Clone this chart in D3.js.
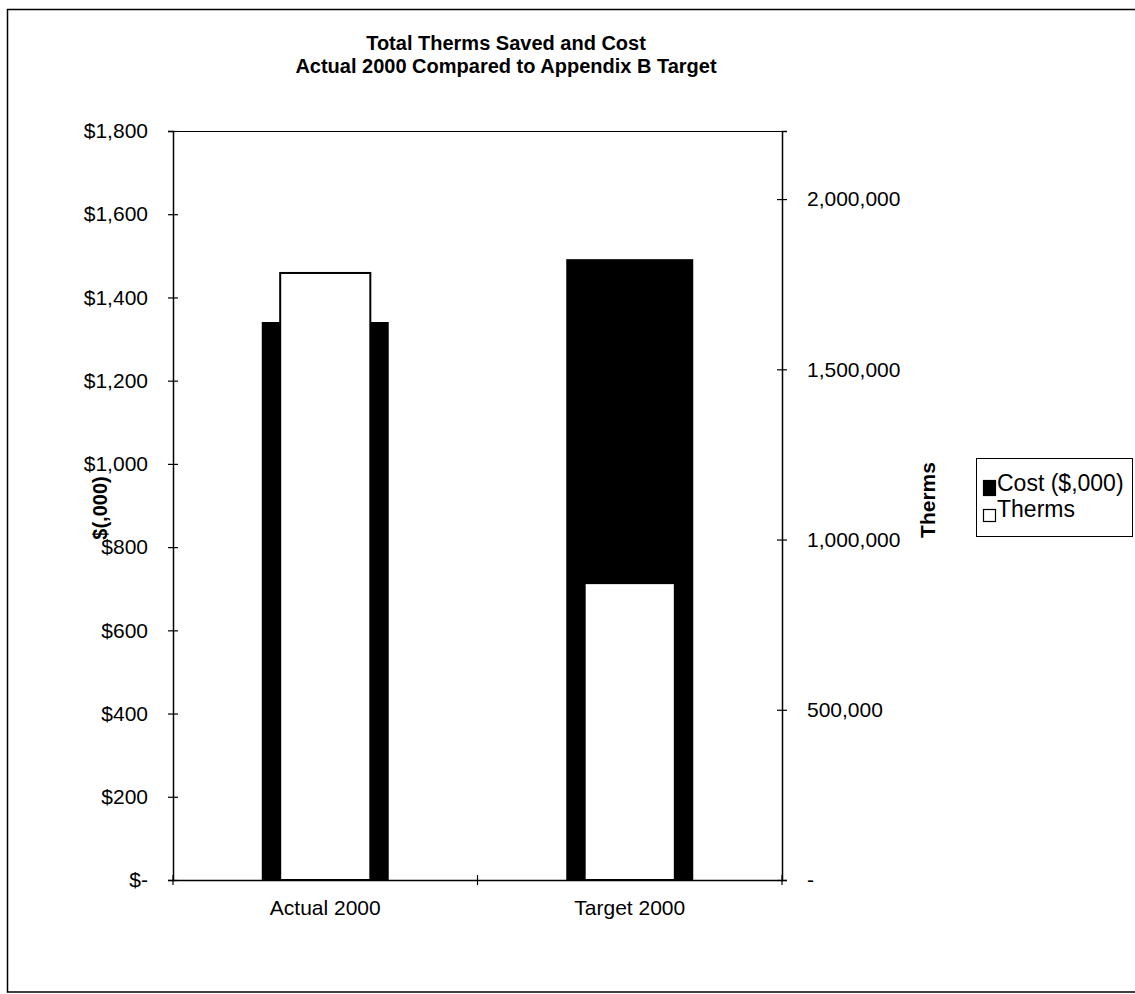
<!DOCTYPE html>
<html>
<head>
<meta charset="utf-8">
<script src="https://cdn.jsdelivr.net/npm/d3@7"></script>
<style>
  html, body { margin: 0; padding: 0; background: #fff; }
  svg { display: block; font-family: "Liberation Sans", Arial, sans-serif; }
</style>
</head>
<body>
<svg id="chart" width="1135" height="994"></svg>
<script>
// ---- Data ----
const categories = ["Actual 2000", "Target 2000"];
const costValues = [1341, 1492];            // $(,000) – left axis
const thermValues = [1783000, 872000];      // Therms – right axis
const leftTicks = [0, 200, 400, 600, 800, 1000, 1200, 1400, 1600, 1800];
const rightTicks = [0, 500000, 1000000, 1500000, 2000000];
const titleLines = ["Total Therms Saved and Cost", "Actual 2000 Compared to Appendix B Target"];
const seriesNames = ["Cost ($,000)", "Therms"];

// ---- Layout ----
const svg = d3.select("#chart");
const plot = { left: 173, right: 782, top: 131, bottom: 880 };
const fontSize = 21;

// outer frame
svg.append("rect")
  .attr("x", 7.5).attr("y", 9.5)
  .attr("width", 1140).attr("height", 982.5)
  .attr("fill", "none").attr("stroke", "#000").attr("stroke-width", 1.5);

// scales
const x = d3.scaleBand().domain(categories).range([plot.left, plot.right]).padding(0);
const yL = d3.scaleLinear().domain([0, 1800]).range([plot.bottom, plot.top]);
const yR = d3.scaleLinear().domain([0, 2200000]).range([plot.bottom, plot.top]);

// bars: cost (black, wide)
const costW = x.bandwidth() * 0.417;
const thermW = x.bandwidth() * 0.296;
svg.append("g").selectAll("rect").data(categories).join("rect")
  .attr("x", (d) => x(d) + x.bandwidth() / 2 - costW / 2)
  .attr("y", (d, i) => yL(costValues[i]))
  .attr("width", costW)
  .attr("height", (d, i) => yL(0) - yL(costValues[i]))
  .attr("fill", "#000");

// bars: therms (white with black outline, narrower, secondary axis)
svg.append("g").selectAll("rect").data(categories).join("rect")
  .attr("x", (d) => x(d) + x.bandwidth() / 2 - thermW / 2)
  .attr("y", (d, i) => yR(thermValues[i]))
  .attr("width", thermW)
  .attr("height", (d, i) => yR(0) - yR(thermValues[i]))
  .attr("fill", "#fff").attr("stroke", "#000").attr("stroke-width", 2);

// plot top border
svg.append("line")
  .attr("x1", plot.left).attr("x2", plot.right)
  .attr("y1", plot.top + 0.5).attr("y2", plot.top + 0.5)
  .attr("stroke", "#000").attr("stroke-width", 1);

// left axis
const leftFmt = (d) => d === 0 ? "$-" : "$" + d3.format(",")(d);
const gL = svg.append("g").attr("transform", `translate(${plot.left},0)`)
  .call(d3.axisLeft(yL).tickValues(leftTicks).tickFormat(leftFmt).tickSize(5).tickPadding(20));
gL.select(".domain").attr("stroke-width", 1.5);
gL.selectAll(".tick line").attr("x1", 5).attr("x2", -5).attr("stroke-width", 1.2);
gL.selectAll(".tick text").attr("font-size", fontSize).attr("font-family", "Liberation Sans, Arial, sans-serif").attr("fill", "#000");

// right axis
const rightFmt = (d) => d === 0 ? "-" : d3.format(",")(d);
const gR = svg.append("g").attr("transform", `translate(${plot.right},0)`)
  .call(d3.axisRight(yR).tickValues(rightTicks).tickFormat(rightFmt).tickSize(5).tickPadding(20));
gR.select(".domain").attr("stroke-width", 1.5);
gR.selectAll(".tick line").attr("x1", -5).attr("x2", 5).attr("stroke-width", 1.2);
gR.selectAll(".tick text").attr("font-size", fontSize).attr("font-family", "Liberation Sans, Arial, sans-serif").attr("fill", "#000");

// x axis
const gX = svg.append("g").attr("transform", `translate(0,${plot.bottom})`)
  .call(d3.axisBottom(x).tickSize(0).tickPadding(20));
gX.select(".domain").attr("stroke-width", 1.5);
gX.selectAll(".tick text").attr("font-size", fontSize).attr("font-family", "Liberation Sans, Arial, sans-serif").attr("fill", "#000");
// category separator ticks (crossing)
const sepPositions = d3.range(categories.length + 1).map((i) => plot.left + i * x.step());
svg.append("g").selectAll("line").data(sepPositions).join("line")
  .attr("x1", (d) => d).attr("x2", (d) => d)
  .attr("y1", plot.bottom - 5).attr("y2", plot.bottom + 5)
  .attr("stroke", "#000").attr("stroke-width", 1.2);

// title
svg.append("g").selectAll("text").data(titleLines).join("text")
  .attr("x", 506).attr("y", (d, i) => 50 + i * 23)
  .attr("text-anchor", "middle")
  .attr("font-size", 20).attr("font-weight", "bold")
  .text((d) => d);

// axis titles
svg.append("text")
  .attr("transform", "translate(107,508) rotate(-90)")
  .attr("text-anchor", "middle")
  .attr("font-size", 20).attr("font-weight", "bold")
  .text("$(,000)");
svg.append("text")
  .attr("transform", "translate(935,500) rotate(-90)")
  .attr("text-anchor", "middle")
  .attr("font-size", fontSize).attr("font-weight", "bold")
  .text("Therms");

// legend
const lg = svg.append("g");
lg.append("rect").attr("x", 976.5).attr("y", 458.5).attr("width", 156).attr("height", 78)
  .attr("fill", "#fff").attr("stroke", "#000").attr("stroke-width", 1);
const legendItems = seriesNames.map((n, i) => ({ name: n, fill: i === 0 ? "#000" : "#fff" }));
const li = lg.selectAll("g.item").data(legendItems).join("g").attr("class", "item")
  .attr("transform", (d, i) => `translate(983,${480 + i * 28})`);
li.append("rect").attr("x", 0.5).attr("y", (d, i) => i === 0 ? 0.5 : 1.5)
  .attr("width", 12).attr("height", (d, i) => i === 0 ? 15 : 12)
  .attr("fill", (d) => d.fill).attr("stroke", "#000").attr("stroke-width", 1.2);
li.append("text").attr("x", 14).attr("y", (d, i) => i === 0 ? 11 : 9)
  .attr("font-size", 23).text((d) => d.name);
</script>
</body>
</html>
